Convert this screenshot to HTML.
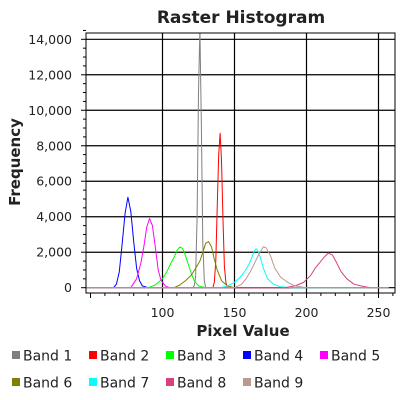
<!DOCTYPE html>
<html><head><meta charset="utf-8"><style>
body{margin:0;background:#fff;}
svg{display:block;font-family:"DejaVu Sans","Liberation Sans",sans-serif;}
</style></head><body>
<svg id="chart" width="400" height="400"></svg>
<script>
const bandNames=["Band 1","Band 2","Band 3","Band 4","Band 5","Band 6","Band 7","Band 8","Band 9"];
const bandColors=["#808080","#ff0000","#00ff00","#0000ff","#ff00ff","#808000","#00ffff","#d84080","#b89a90"];
const band1X=[47,121,122,123,124,125,126,127,128,129,130,257];
const band1Y=[0,0,100,600,4000,11000,14600,9000,2500,400,0,0];
const band2X=[47,135,136,137,138,139,140,141,142,143,144,145,257];
const band2Y=[0,0,300,1500,4500,7500,8700,7200,3800,1200,300,0,0];
const band3X=[47,90,95,100,103,106,108,110,112,114,116,118,120,122,125,130,257];
const band3Y=[0,0,150,500,900,1400,1700,2100,2300,2200,1800,1300,800,400,100,0,0];
const band4X=[47,66,68,70,72,74,76,78,80,82,84,86,90,257];
const band4Y=[0,0,200,900,2500,4200,5100,4300,2600,1100,400,100,0,0];
const band5X=[47,78,82,85,87,89,91,93,95,97,99,102,105,257];
const band5Y=[0,0,500,1400,2300,3400,3900,3500,2300,1000,400,100,0,0];
const band6X=[47,108,112,116,120,123,126,128,130,132,134,136,138,141,145,150,257];
const band6Y=[0,0,150,400,700,1100,1500,2000,2500,2600,2300,1600,1000,400,100,0,0];
const band7X=[47,140,145,150,154,157,160,162,164,165,166,168,170,173,177,182,190,257];
const band7Y=[0,0,100,300,600,900,1300,1700,2100,2200,2100,1700,1100,500,200,50,0,0];
const band8X=[47,185,192,198,203,206,209,212,215,218,221,224,228,233,240,245,257];
const band8Y=[0,0,100,300,700,1100,1400,1700,1950,1850,1400,900,500,200,60,0,0];
const band9X=[47,150,155,158,161,164,167,170,172,175,178,182,187,192,200,257];
const band9Y=[0,0,200,500,900,1400,1900,2300,2250,1800,1100,600,300,100,0,0];
const seriesX=[band1X,band2X,band3X,band4X,band5X,band6X,band7X,band8X,band9X];
const seriesY=[band1Y,band2Y,band3Y,band4Y,band5Y,band6Y,band7Y,band8Y,band9Y];
const yTicks=[0,2000,4000,6000,8000,10000,12000,14000];
const xTicks=[100,150,200,250];

const NS="http://www.w3.org/2000/svg";
const svg=document.getElementById('chart');
const L=86,R=395,T=33,B=293;
const xMin=47,xMax=261.5;
const sx=v=>162.5+(v-100)*1.44;
const sy=v=>287.7-v*(248.4/14000);
function mk(tag,attrs,parent){const e=document.createElementNS(NS,tag);for(const k in attrs)e.setAttribute(k,attrs[k]);(parent||svg).appendChild(e);return e;}

const title=mk('text',{x:241,y:23,'text-anchor':'middle','font-size':17,'font-weight':'bold',fill:'#222'});
title.textContent='Raster Histogram';



// clip
const defs=mk('defs',{});
const cp=mk('clipPath',{id:'clip'},defs);
mk('rect',{x:L,y:T,width:R-L,height:B-T},cp);

// grid
const grid=mk('g',{});


yTicks.forEach(v=>{mk('line',{x1:L,x2:R,y1:sy(v),y2:sy(v),stroke:'#000','stroke-width':1.2},grid);});
xTicks.forEach(v=>{mk('line',{x1:sx(v),x2:sx(v),y1:T,y2:B,stroke:'#000','stroke-width':1.2},grid);});

// series
const plot=mk('g',{'clip-path':'url(#clip)'});
seriesX.forEach((xs,i)=>{
  const pts=xs.map((x,j)=>sx(x).toFixed(1)+','+sy(seriesY[i][j]).toFixed(1)).join(' ');
  const pl=mk('polyline',{points:pts,fill:'none',stroke:bandColors[i],'stroke-width':1,'stroke-linejoin':'round'},plot);
  
  
});

// frame
const frame=mk('rect',{x:L,y:T,width:R-L,height:B-T,fill:'none',stroke:'#000','stroke-width':1});



// y axis ticks
const yAxis=mk('g',{});


for(let v=0;v<=14500;v+=500){mk('line',{x1:L-(v%2000===0?5:3),x2:L,y1:sy(v),y2:sy(v),stroke:'#000'},yAxis);}
yTicks.forEach(v=>{const t=mk('text',{x:L-14,y:sy(v)+4.5,'text-anchor':'end','font-size':12.5,fill:'#222'},yAxis);t.textContent=v.toLocaleString('en-US');});
const xAxis=mk('g',{});


for(let v=50;v<=260;v+=10){mk('line',{x1:sx(v),x2:sx(v),y1:B,y2:B+(v%50===0?5:3),stroke:'#000'},xAxis);}
xTicks.forEach(v=>{const t=mk('text',{x:sx(v),y:317,'text-anchor':'middle','font-size':12.5,fill:'#222'},xAxis);t.textContent=v;});

const xt=mk('text',{x:243,y:336,'text-anchor':'middle','font-size':15,'font-weight':'bold',fill:'#222'});
xt.textContent='Pixel Value';


const yt=mk('text',{x:20,y:162,'text-anchor':'middle','font-size':15,'font-weight':'bold',fill:'#222',transform:'rotate(-90 20 162)'});
yt.textContent='Frequency';



// legend
const leg=mk('g',{});


bandNames.forEach((n,i)=>{
  const col=i%5,row=Math.floor(i/5);
  const x=12+col*77,y=351+row*27;
  const g=mk('g',{},leg);
  
  
  mk('rect',{x:x,y:y,width:8,height:8,fill:bandColors[i]},g);
  const t=mk('text',{x:x+11,y:y+9.5,'font-size':14,fill:'#222'},g);t.textContent=n;
});
</script>
</body></html>
